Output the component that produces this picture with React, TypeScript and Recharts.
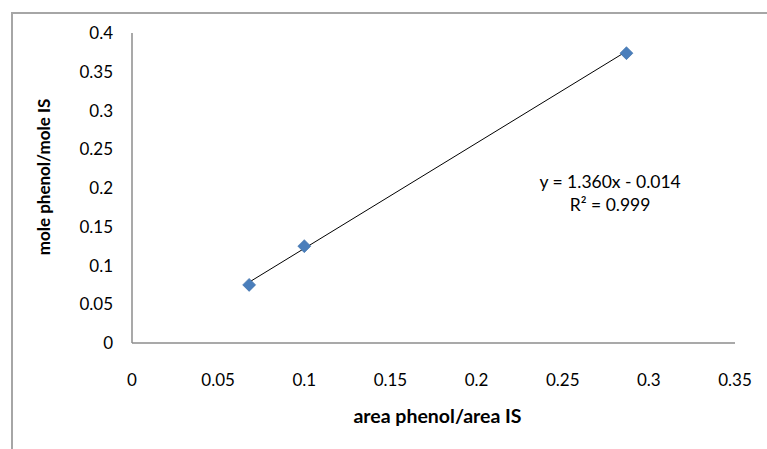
import { ScatterChart, Scatter, XAxis, YAxis, ReferenceLine, ReferenceDot } from "recharts";

// calibration points (area ratio vs mole ratio)
const areaRatio = [0.068, 0.1, 0.287];
const moleRatio = [0.075, 0.125, 0.374];

const xTicks = [0, 0.05, 0.1, 0.15, 0.2, 0.25, 0.3, 0.35];
const yTicks = [0, 0.05, 0.1, 0.15, 0.2, 0.25, 0.3, 0.35, 0.4];

// linear trendline shown on the chart
const slope = 1.36;
const intercept = -0.014;
const rSquared = 0.999;
const eqAnchor = { x: 0.2775, y: 0.194 };

const FONT = "Lato, 'Open Sans', sans-serif";
const AXIS = "#8c8c8c";

const points = areaRatio.map((x, i) => ({ x, y: moleRatio[i] }));
const xMin = Math.min(...areaRatio);
const xMax = Math.max(...areaRatio);

function Diamond(props: any) {
  const { cx, cy } = props;
  const r = 6.5;
  return (
    <path
      d={`M${cx},${cy - r} L${cx + r},${cy} L${cx},${cy + r} L${cx - r},${cy} Z`}
      fill="#4a7ebb"
      stroke="#3c6ea8"
      strokeWidth={0.6}
    />
  );
}

function EqLabel(props: any) {
  const { viewBox } = props;
  const cx = viewBox.x + (viewBox.width || 0) / 2;
  const cy = viewBox.y + (viewBox.height || 0) / 2;
  return (
    <text x={cx} textAnchor="middle" fontFamily={FONT} fontSize={17.5} fill="#000">
      <tspan x={cx} y={cy - 5}>
        {`y = ${slope.toFixed(3)}x - ${Math.abs(intercept).toFixed(3)}`}
      </tspan>
      <tspan x={cx} y={cy + 18}>
        {`R² = ${rSquared.toFixed(3)}`}
      </tspan>
    </text>
  );
}

function YTitle(props: any) {
  const { viewBox } = props;
  const x = viewBox.x - 28.5;
  const y = viewBox.y + viewBox.height / 2 - 11;
  return (
    <text
      x={x}
      y={y}
      transform={`rotate(-90, ${x}, ${y})`}
      textAnchor="middle"
      dominantBaseline="central"
      fontFamily={FONT}
      fontWeight="bold"
      fontSize={17}
      fill="#000"
    >
      mole phenol/mole IS
    </text>
  );
}

function XTitle(props: any) {
  const { viewBox } = props;
  return (
    <text
      x={viewBox.x + viewBox.width / 2 + 4}
      y={viewBox.y + 72}
      textAnchor="middle"
      dominantBaseline="central"
      fontFamily={FONT}
      fontWeight="bold"
      fontSize={19.5}
      fill="#000"
    >
      area phenol/area IS
    </text>
  );
}

export default function App() {
  const tick = { fontSize: 17, fill: "#000", fontFamily: FONT };
  return (
    <div style={{ position: "absolute", left: 0, top: 0, width: 767, height: 449, background: "#fff", overflow: "hidden" }}>
      <div
        style={{
          position: "absolute",
          left: 11,
          top: 12,
          width: 800,
          height: 460,
          borderTop: "2px solid #a6a6a6",
          borderLeft: "2px solid #a6a6a6",
        }}
      />
      <ScatterChart
        width={767}
        height={449}
        margin={{ top: 33, right: 32, bottom: 76, left: 72 }}
        style={{ position: "absolute", left: 0, top: 0 }}
      >
        <XAxis
          type="number"
          dataKey="x"
          domain={[0, 0.35]}
          ticks={xTicks}
          interval={0}
          height={30}
          tick={tick}
          tickLine={false}
          tickSize={0}
          tickMargin={31}
          axisLine={{ stroke: AXIS, strokeWidth: 1.5 }}
          label={<XTitle />}
        />
        <YAxis
          type="number"
          dataKey="y"
          domain={[0, 0.4]}
          ticks={yTicks}
          interval={0}
          width={60}
          tick={tick}
          tickLine={false}
          tickSize={0}
          tickMargin={19}
          axisLine={{ stroke: AXIS, strokeWidth: 1.5 }}
          label={<YTitle />}
        />
        <ReferenceLine
          segment={[
            { x: xMin, y: slope * xMin + intercept },
            { x: xMax, y: slope * xMax + intercept },
          ]}
          stroke="#000"
          strokeWidth={1}
          ifOverflow="visible"
        />
        <Scatter data={points} shape={<Diamond />} isAnimationActive={false} />
        <ReferenceDot x={eqAnchor.x} y={eqAnchor.y} r={0} fill="none" stroke="none" label={<EqLabel />} />
      </ScatterChart>
    </div>
  );
}
